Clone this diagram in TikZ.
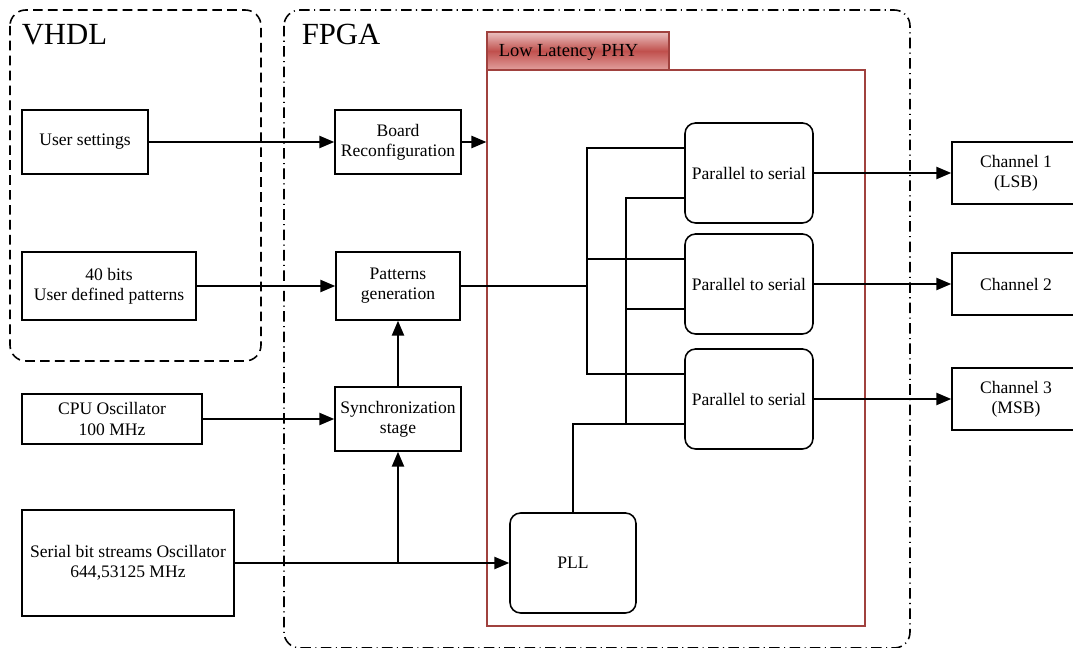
\documentclass[tikz,border=0pt]{standalone}
\usepackage{fontspec}
\setmainfont{Liberation Serif}
\usetikzlibrary{arrows.meta,calc}
\definecolor{phyline}{HTML}{A0413E}
\definecolor{phytop}{HTML}{EBC1C0}
\definecolor{phymid}{HTML}{C0504D}
\definecolor{phybot}{HTML}{E2A09E}
\begin{document}
\begin{tikzpicture}[x=0.02cm, y=-0.02cm, line width=0.9pt,
  every node/.style={font=\fontsize{10}{11.5}\selectfont},
  blk/.style 2 args={draw, line width=0.9pt, align=center, inner sep=1pt,
    minimum width=#1*0.02cm, minimum height=#2*0.02cm},
  rblk/.style 2 args={blk={#1}{#2}, rounded corners=6pt},
  arr/.style={-{Triangle[length=8.5pt,width=7pt]}},
  grouplabel/.style={anchor=base west, inner sep=0, font=\fontsize{17.5}{20}\selectfont}]
\useasboundingbox (0,0) rectangle (1073,648);
\draw[dash pattern=on 5.5pt off 3pt, rounded corners=9pt] (10,10) rectangle (261,361);
\node[grouplabel] (vhdl) at (21,45) {VHDL};
\draw[dash pattern=on 6pt off 2.5pt on 0.6pt off 2.5pt, rounded corners=9pt] (284,10) rectangle (910,648);
\node[grouplabel] (fpga) at (301,45) {FPGA};
\node[draw=phyline, line width=0.7pt, inner sep=0, minimum width=378*0.02cm, minimum height=556*0.02cm] (phy) at (676,348) {};
\node[draw=phyline, line width=0.7pt, inner sep=0, top color=phytop, bottom color=phybot, middle color=phymid,
  minimum width=182*0.02cm, minimum height=38*0.02cm] (phytab) at (578,51) {};
\node[anchor=base west, inner sep=0, font=\fontsize{10.5}{12}\selectfont] (phylabel) at (498,57) {Low Latency PHY};

\node[blk={126}{64}] (user) at (85,142) {User settings};
\node[blk={174}{68}] (bits) at (109,286) {40 bits\\User defined patterns};
\node[blk={180}{50}] (cpu) at (112,419) {CPU Oscillator\\100 MHz};
\node[blk={212}{106}] (serosc) at (128,563) {Serial bit streams Oscillator\\644,53125 MHz};
\node[blk={126}{64}] (board) at (398,142) {Board\\Reconfiguration};
\node[blk={124}{68}] (patgen) at (398,286) {Patterns\\generation};
\node[blk={126}{64}] (sync) at (398,419) {Synchronization\\stage};
\node[rblk={126}{100}] (pll) at (573,563) {PLL};
\foreach \i/\y in {1/173,2/284,3/399}
  \node[rblk={128}{100}] (ps\i) at (749,\y) {Parallel to serial};
\node[blk={128}{62}] (ch1) at (1016,173) {Channel 1\\(LSB)};
\node[blk={128}{62}] (ch2) at (1016,284) {Channel 2};
\node[blk={128}{62}] (ch3) at (1016,399) {Channel 3\\(MSB)};

\draw[arr] (user.east) -- (board.west);
\draw[arr] (board.east) -- (board.east -| phy.west);
\draw[arr] (bits.east) -- (patgen.west);
\draw[arr] (cpu.east) -- (sync.west);
\draw[arr] (serosc.east) -- (pll.west);
\coordinate (split) at (sync.south |- serosc.east);
\draw[arr] (split) -- (sync.south);
\draw[arr] (sync.north) -- (patgen.south);

\coordinate (dbus) at (587,286);
\coordinate (cbus) at (626,424);
\foreach \i in {1,2,3} {
  \coordinate (d\i) at ($(ps\i.west)+(0,-25)$);
  \coordinate (c\i) at ($(ps\i.west)+(0,25)$);
}
\draw (patgen.east) -- (dbus);
\draw (d1) -- (dbus |- d1) -- (dbus |- d3) -- (d3);
\draw (dbus |- d2) -- (d2);
\draw (c1) -- (cbus |- c1) -- (cbus |- c3) -- (c3);
\draw (cbus |- c2) -- (c2);
\draw (pll.north) -- (pll.north |- c3) -- (cbus |- c3);
\foreach \i in {1,2,3}
  \draw[arr] (ps\i.east) -- (ch\i.west);
\end{tikzpicture}
\end{document}
